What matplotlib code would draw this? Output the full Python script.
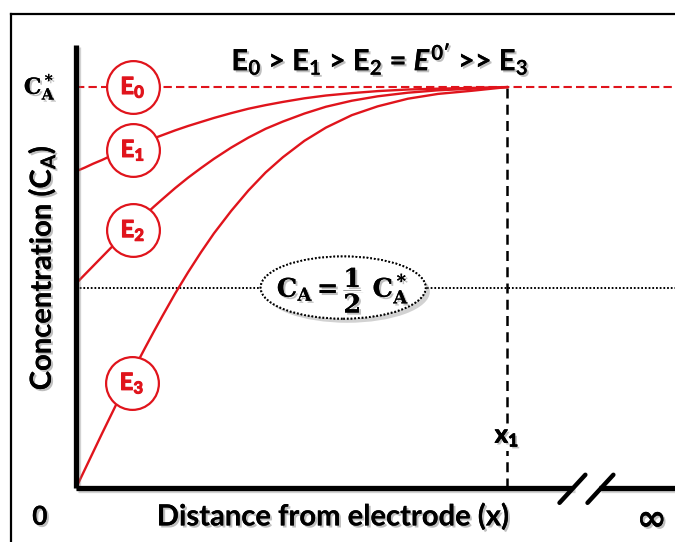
import matplotlib
matplotlib.use("Agg")
import matplotlib.pyplot as plt
import matplotlib.patheffects as pe
from matplotlib.patches import Ellipse
from matplotlib.lines import Line2D

plt.rcParams["font.family"] = ["Lato", "DejaVu Sans"]
plt.rcParams["mathtext.fontset"] = "custom"
plt.rcParams["mathtext.rm"] = "Lato:bold"
plt.rcParams["mathtext.it"] = "Lato:bold:italic"
plt.rcParams["mathtext.bf"] = "Lato:bold"
plt.rcParams["mathtext.bfit"] = "Lato:bold:italic"

RED = "#e0141c"

# Concentration profiles C_A(x) / C_A*, x in units of x1
distance = [0.0, 0.02, 0.04, 0.06, 0.08, 0.10, 0.12, 0.14, 0.16, 0.18, 0.20,
            0.23, 0.26, 0.29, 0.32, 0.36, 0.40, 0.44, 0.48, 0.53, 0.58, 0.64,
            0.70, 0.77, 0.84, 0.92, 1.0]
conc_e1 = [0.790, 0.799, 0.809, 0.818, 0.828, 0.837, 0.846, 0.855, 0.863, 0.872,
           0.880, 0.892, 0.903, 0.913, 0.923, 0.935, 0.946, 0.955, 0.963, 0.972,
           0.979, 0.985, 0.990, 0.994, 0.996, 0.998, 1.0]
conc_e2 = [0.510, 0.532, 0.554, 0.576, 0.598, 0.619, 0.640, 0.661, 0.681, 0.701,
           0.720, 0.748, 0.774, 0.798, 0.821, 0.849, 0.874, 0.896, 0.914, 0.934,
           0.951, 0.966, 0.977, 0.986, 0.992, 0.996, 1.0]
conc_e3 = [0.0, 0.045, 0.090, 0.135, 0.179, 0.223, 0.266, 0.308, 0.349, 0.389,
           0.428, 0.485, 0.538, 0.588, 0.635, 0.691, 0.742, 0.787, 0.825, 0.866,
           0.899, 0.930, 0.952, 0.971, 0.983, 0.991, 1.0]
bulk_level = 1.0
half_level = 0.5
x1_position = 1.0

curve_labels = [r"E$_{0}$", r"E$_{1}$", r"E$_{2}$", r"E$_{3}$"]
label_x = [0.132, 0.132, 0.132, 0.130]
label_y = [1.0, 0.843, 0.643, 0.262]

XMAX, YMAX = 1.39, 1.105

fig = plt.figure(figsize=(6.75, 5.42), dpi=100)
ax = fig.add_axes([76 / 675, 54 / 542, 599 / 675, 443 / 542])
ax.set_xlim(0, XMAX)
ax.set_ylim(0, YMAX)
ax.axis("off")

shadow_txt = [pe.withSimplePatchShadow(offset=(1.5, -1.5), shadow_rgbFace="0.45", alpha=0.45), pe.Normal()]
shadow_line = [pe.SimpleLineShadow(offset=(1.5, -1.5), shadow_color="0.5", alpha=0.35), pe.Normal()]
bold_red = [pe.withStroke(linewidth=0.8, foreground=RED)]
bold_black = [pe.withSimplePatchShadow(offset=(1.5, -1.5), shadow_rgbFace="0.45", alpha=0.45),
              pe.withStroke(linewidth=0.6, foreground="black")]

# outer frame
fig.add_artist(Line2D([11 / 675, 1.0], [1 - 14 / 542, 1 - 14 / 542], color="black", lw=1.6))
fig.add_artist(Line2D([11 / 675, 11 / 675], [0.0, 1 - 14 / 542], color="black", lw=1.6))

# axes with break on the x axis
ax.plot([0, 0], [0, YMAX], color="black", lw=3.8, clip_on=False, solid_capstyle="butt",
        path_effects=shadow_line, zorder=6)
ax.plot([0, 1.152], [0, 0], color="black", lw=3.8, clip_on=False, solid_capstyle="butt",
        path_effects=shadow_line, zorder=6)
ax.plot([1.213, XMAX], [0, 0], color="black", lw=3.8, clip_on=False, solid_capstyle="butt",
        path_effects=shadow_line, zorder=6)
for x0 in (1.122, 1.187):
    ax.plot([x0, x0 + 0.06], [-0.037, 0.033], color="black", lw=3.2, clip_on=False,
            solid_capstyle="round", zorder=6)

# reference lines
ax.plot([0, XMAX], [bulk_level, bulk_level], color=RED, lw=1.5, dashes=(4, 2), clip_on=False, zorder=2)
ax.plot([0, XMAX], [half_level, half_level], color="black", lw=1.4, dashes=(0.9, 1.0), clip_on=False, zorder=2)
ax.plot([x1_position, x1_position], [0, bulk_level], color="black", lw=1.8, dashes=(4, 2.5), zorder=2)

# concentration profiles
for c in (conc_e1, conc_e2, conc_e3):
    ax.plot(distance, c, color=RED, lw=1.7, zorder=3, solid_joinstyle="round")

# potential labels in circles
ax.scatter(label_x, label_y, s=1444, facecolor="white", edgecolor=RED, linewidth=1.6, zorder=4)
for lx, ly, lab in zip(label_x, label_y, curve_labels):
    ax.text(lx, ly, lab, color=RED, fontsize=17, fontweight="bold", ha="center", va="center",
            zorder=5, path_effects=bold_red)

# half-concentration callout
ell = Ellipse((0.62, half_level), 0.383, 0.155, facecolor="white", edgecolor="black",
              lw=1.4, linestyle=(0, (0.9, 1.0)), zorder=4,
              path_effects=[pe.withSimplePatchShadow(offset=(3, -3), shadow_rgbFace="0.5", alpha=0.35), pe.Normal()])
ax.add_patch(ell)
ax.text(0.62, half_level - 0.005, r"$\mathbf{C_A = \genfrac{}{}{0.8}{0}{1}{2}\ C_A^*}$",
        math_fontfamily="dejavuserif", fontsize=18.5, ha="center", va="center", zorder=5,
        path_effects=shadow_txt)

# title
ax.text(0.705, 1.07, r"E$_{0}$ > E$_{1}$ > E$_{2}$ = $E^{0\prime}$ >> E$_{3}$",
        fontsize=21, fontweight="bold", ha="center", va="center", path_effects=shadow_txt)

# axis annotations
ax.text(-0.084, 1.0, r"$\mathbf{C_A^*}$", math_fontfamily="dejavuserif", fontsize=16,
        ha="center", va="center", clip_on=False, path_effects=shadow_txt)
ax.text(-0.079, 0.549, r"Concentration (C$_{\mathbf{A}}$)", fontsize=21, fontweight="bold",
        rotation=90, ha="center", va="center", clip_on=False, path_effects=shadow_txt)
ax.text(-0.084, -0.072, "0", fontsize=19, fontweight="bold", ha="center", va="center",
        clip_on=False, path_effects=shadow_txt)
ax.text(0.596, -0.072, "Distance from electrode (x)", fontsize=21, fontweight="bold",
        ha="center", va="center", clip_on=False, path_effects=shadow_txt)
ax.text(1.336, -0.08, "∞", fontsize=26, fontweight="bold", family=["DejaVu Sans"],
        ha="center", va="center", clip_on=False, path_effects=shadow_txt)
ax.text(x1_position, 0.127, r"x$_{1}$", fontsize=18, fontweight="bold", ha="center", va="center", zorder=5,
        bbox=dict(facecolor="white", edgecolor="none", pad=1.5), path_effects=bold_black)

fig.savefig("out.png", dpi=100)
